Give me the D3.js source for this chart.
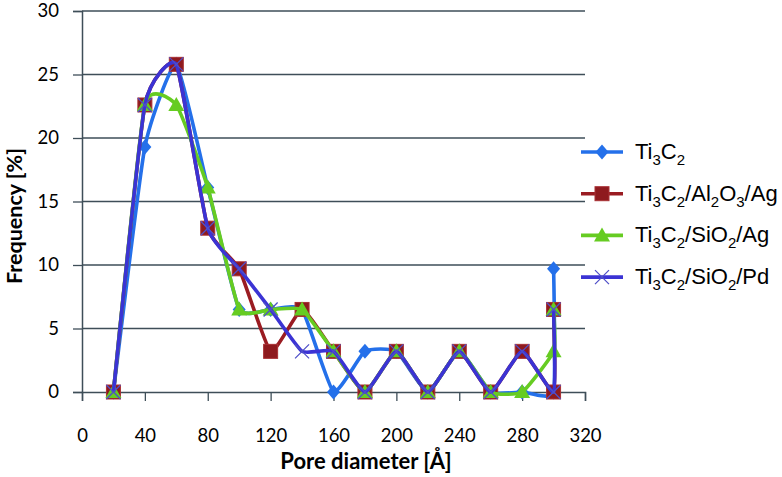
<!DOCTYPE html>
<html><head><meta charset="utf-8">
<script src="https://cdn.jsdelivr.net/npm/d3@7"></script>
<style>body{margin:0;background:#fff}svg{display:block}</style>
</head><body>
<svg id="c" width="782" height="477"></svg>
<script>
const poreX = [20,40,60,80,100,120,140,160,180,200,220,240,260,280,300,300];
const seriesNames = ["Ti3C2","Ti3C2/Al2O3/Ag","Ti3C2/SiO2/Ag","Ti3C2/SiO2/Pd"];
const ti3c2      = [0,19.3,25.8,16.1,6.5,6.5,6.5,0,3.2,3.2,0,3.2,0,0,0,9.7];
const ti3c2Al2O3 = [0,22.6,25.8,12.9,9.7,3.2,6.5,3.2,0,3.2,0,3.2,0,3.2,0,6.5];
const ti3c2SiO2Ag= [0,22.6,22.6,16.1,6.5,6.5,6.5,3.2,0,3.2,0,3.2,0,0,3.2,6.5];
const ti3c2SiO2Pd= [0,22.6,25.8,12.9,9.7,6.5,3.2,3.2,0,3.2,0,3.2,0,3.2,0,6.5];
const xTicks = [0,40,80,120,160,200,240,280,320];
const yTicks = [0,5,10,15,20,25,30];

const colors = ["#2470EA","#9A1C22","#66CC22","#3B33D4"];
const markers = ["diamond","square","triangle","cross"];
const allSeries = [ti3c2, ti3c2Al2O3, ti3c2SiO2Ag, ti3c2SiO2Pd];

const svg = d3.select("#c");
const L=82, R=585, T=11, B=392;
const x = d3.scaleLinear().domain([0,320]).range([L,R]);
const y = d3.scaleLinear().domain([0,30]).range([B,T]);
const gridCol = "#3E4E58";

svg.append("g").selectAll("line").data(yTicks.filter(d=>d>0)).join("line")
  .attr("x1",L).attr("x2",R).attr("y1",d=>y(d)).attr("y2",d=>y(d))
  .attr("stroke",gridCol).attr("stroke-width",1.3);

const yAxis = svg.append("g").attr("transform",`translate(${L},0)`)
  .call(d3.axisLeft(y).tickValues(yTicks).tickSize(9).tickPadding(14));
const xAxis = svg.append("g").attr("transform",`translate(0,${B})`)
  .call(d3.axisBottom(x).tickValues(xTicks).tickSize(9).tickPadding(28));
[yAxis,xAxis].forEach(g=>{
  g.select(".domain").attr("stroke",gridCol).attr("stroke-width",1.5);
  g.selectAll(".tick line").attr("stroke",gridCol).attr("stroke-width",1.3);
  g.selectAll("text").attr("font-family","Lato, 'Open Sans', sans-serif")
   .attr("font-size",18.5).attr("fill","#000");
});

const line = d3.line().x(d=>x(d[0])).y(d=>y(d[1])).curve(d3.curveCardinal.tension(0.55));
function drawMarker(g, type, cx, cy, color){
  if(type==="square"){
    g.append("rect").attr("x",cx-7).attr("y",cy-7).attr("width",14).attr("height",14)
     .attr("fill","#8E1A1E").attr("stroke","#A83034").attr("stroke-width",1);
  } else if(type==="diamond"){
    g.append("path").attr("transform",`translate(${cx},${cy})`)
     .attr("d","M0,-7.5L6.5,0L0,7.5L-6.5,0Z").attr("fill",color);
  } else if(type==="triangle"){
    g.append("path").attr("transform",`translate(${cx},${cy})`)
     .attr("d","M0,-8L8,6L-8,6Z").attr("fill",color);
  } else {
    g.append("path").attr("transform",`translate(${cx},${cy})`)
     .attr("d","M-7,-7L7,7M-7,7L7,-7").attr("stroke","#5050C8").attr("stroke-width",1.3).attr("fill","none");
  }
}
allSeries.forEach((vals,i)=>{
  const pts = poreX.map((px,j)=>[px,vals[j]]);
  const g = svg.append("g");
  g.append("path").attr("d",line(pts)).attr("fill","none")
   .attr("stroke",colors[i]).attr("stroke-width",3.6).attr("stroke-linejoin","round");
  pts.forEach(p=>drawMarker(g,markers[i],x(p[0]),y(p[1]),colors[i]));
});

svg.append("text").attr("x",366).attr("y",469).attr("text-anchor","middle")
  .attr("font-family","Lato, 'Open Sans', sans-serif").attr("font-weight","bold").attr("font-size",22)
  .attr("fill","#000").text("Pore diameter [Å]");
svg.append("text").attr("transform","translate(22,216) rotate(-90)").attr("text-anchor","middle")
  .attr("font-family","Lato, 'Open Sans', sans-serif").attr("font-weight","bold").attr("font-size",21.5)
  .attr("fill","#000").text("Frequency [%]");

const lg = svg.append("g");
seriesNames.forEach((name,i)=>{
  const ly = 152 + i*41.7;
  lg.append("line").attr("x1",581).attr("x2",623).attr("y1",ly).attr("y2",ly)
    .attr("stroke",colors[i]).attr("stroke-width",3.6);
  drawMarker(lg,markers[i],602,ly,colors[i]);
  const t = lg.append("text").attr("x",635).attr("y",ly+7)
    .attr("font-family","'Liberation Sans', Arial, sans-serif").attr("font-size",22).attr("fill","#000");
  const parts = name.match(/[0-9]+|[^0-9]+/g);
  let sub=false;
  parts.forEach(p=>{
    const isSub = /^[0-9]+$/.test(p);
    const ts = t.append("tspan").text(p);
    if(isSub){ ts.attr("font-size",15).attr("dy",sub?0:6); sub=true; }
    else { if(sub){ ts.attr("dy",-6); } sub=false; }
  });
});
</script>
</body></html>
